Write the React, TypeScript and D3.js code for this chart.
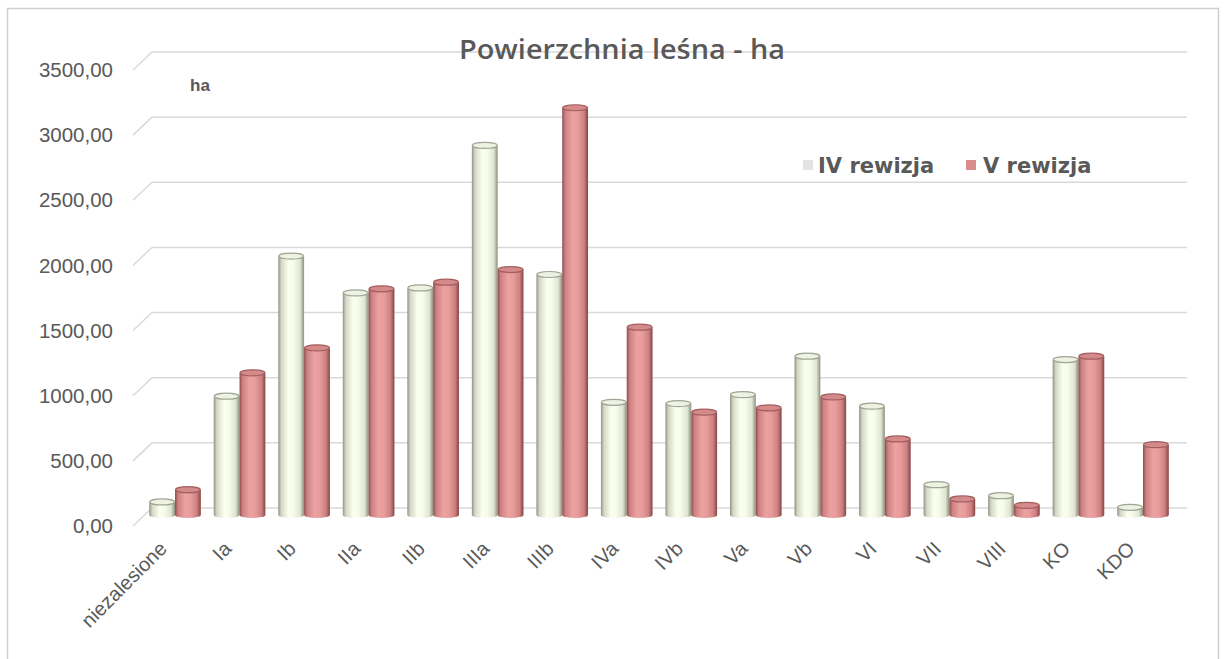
import React from "react";
import * as d3 from "d3";

const categories = ["niezalesione", "Ia", "Ib", "IIa", "IIb", "IIIa", "IIIb", "IVa", "IVb", "Va", "Vb", "VI", "VII", "VIII", "KO", "KDO"];
const seriesNames = ["IV rewizja", "V rewizja"];
const rev4 = [100, 912, 1987, 1705, 1743, 2837, 1846, 865, 855, 924, 1219, 835, 233, 148, 1193, 59];
const rev5 = [194, 1091, 1283, 1736, 1787, 1884, 3126, 1442, 789, 822, 906, 584, 123, 74, 1219, 540];
const yTicks = [0, 500, 1000, 1500, 2000, 2500, 3000, 3500];

const W = 1226;
const H = 659;

export default function App() {
  const y = d3.scaleLinear().domain([0, 3500]).range([508, 52]);
  const x = d3.scaleBand<string>().domain(categories).range([142.75, 1175.25]).paddingInner(0.2).paddingOuter(0.1);
  const x1 = d3.scaleBand<string>().domain(seriesNames).range([0, x.bandwidth()]).padding(0);
  const fmt = (v: number) => d3.format(".2f")(v).replace(".", ",");
  const data = [rev4, rev5];
  const ry = 3;
  const depth = 7;

  const grad = [
    { id: "g4", stops: [["0%", "#8f9484"], ["12%", "#d3d9c6"], ["40%", "#fbfff0"], ["60%", "#f7fbea"], ["85%", "#dfe5d0"], ["100%", "#8a8f7f"]], cap: "#eef2e3", capStroke: "#a0a595" },
    { id: "g5", stops: [["0%", "#8e4c4c"], ["12%", "#cd8282"], ["40%", "#eca2a2"], ["60%", "#e89c9c"], ["85%", "#cc8080"], ["100%", "#844444"]], cap: "#d48a8a", capStroke: "#a45e5e" },
  ];

  return (
    <svg width={W} height={H} style={{ position: "absolute", left: 0, top: 0, display: "block", background: "#fff" }}>
      <defs>
        {grad.map((g) => (
          <linearGradient key={g.id} id={g.id} x1="0" x2="1" y1="0" y2="0">
            {g.stops.map((s, i) => (
              <stop key={i} offset={s[0]} stopColor={s[1]} />
            ))}
          </linearGradient>
        ))}
      </defs>
      <rect x={0} y={0} width={W} height={H} fill="#fff" />
      <rect x={7.5} y={8.5} width={1211} height={660} fill="#fff" stroke="#cfcfcf" strokeWidth={1.5} />

      {/* gridlines */}
      {yTicks.map((t) => (
        <g key={t}>
          <line x1={133} y1={y(t) + 18} x2={152} y2={y(t)} stroke="#d9d9d9" strokeWidth={1.5} />
          <line x1={152} y1={y(t)} x2={1187} y2={y(t)} stroke="#d9d9d9" strokeWidth={1.5} />
          <text x={113} y={y(t) + 18} dy="0.35em" textAnchor="end" fontFamily="Liberation Sans, Arial, sans-serif" fontSize={20.5} fill="#595959">
            {fmt(t)}
          </text>
        </g>
      ))}

      {/* bars */}
      {categories.map((c, i) => (
        <g key={c}>
          {data.map((arr, s) => {
            const v = arr[i];
            const bx = (x(c) as number) + (x1(seriesNames[s]) as number);
            const bw = x1.bandwidth();
            const top = y(v) + depth;
            const bot = y(0) + depth;
            const g = grad[s];
            return (
              <g key={s}>
                <path
                  d={`M${bx},${top} L${bx},${bot} A${bw / 2},${ry} 0 0 0 ${bx + bw},${bot} L${bx + bw},${top} Z`}
                  fill={`url(#${g.id})`}
                />
                <ellipse cx={bx + bw / 2} cy={top} rx={bw / 2 - 0.5} ry={ry} fill={g.cap} stroke={g.capStroke} strokeWidth={1.2} />
              </g>
            );
          })}
          <text
            transform={`translate(${(x(c) as number) + x.bandwidth() / 2 - 7},550) rotate(-45)`}
            textAnchor="end"
            fontFamily="Liberation Sans, Arial, sans-serif"
            fontSize={20}
            fill="#595959"
          >
            {c}
          </text>
        </g>
      ))}

      {/* title */}
      <text x={622} y={59} textAnchor="middle" fontFamily="Open Sans, sans-serif" fontWeight={600} fontSize={27} fill="#595959" textLength={326} lengthAdjust="spacingAndGlyphs">
        Powierzchnia leśna - ha
      </text>
      <text x={190} y={91} fontFamily="Liberation Sans, Arial, sans-serif" fontWeight={700} fontSize={17} fill="#595959">
        ha
      </text>

      {/* legend */}
      <rect x={803} y={160} width={10} height={10} fill="#e3e3e3" />
      <text x={818} y={173} fontFamily="DejaVu Sans, sans-serif" fontWeight={700} fontSize={21} fill="#595959">
        {seriesNames[0]}
      </text>
      <rect x={966} y={160} width={10} height={10} fill="#d98c8c" />
      <text x={983} y={173} fontFamily="DejaVu Sans, sans-serif" fontWeight={700} fontSize={21} fill="#595959">
        {seriesNames[1]}
      </text>
    </svg>
  );
}
